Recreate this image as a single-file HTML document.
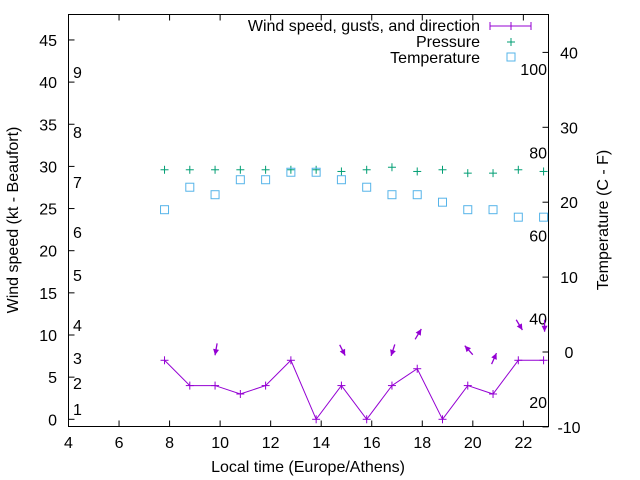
<!DOCTYPE html>
<html><head><meta charset="utf-8"><style>
html,body{margin:0;padding:0;background:#fff}
svg{display:block;font-family:"Liberation Sans",sans-serif}
</style></head><body>
<svg id="chart" width="640" height="480" viewBox="0 0 640 480"></svg>
<script>
const hours=[7.8,8.8,9.8,10.8,11.8,12.8,13.8,14.8,15.8,16.8,17.8,18.8,19.8,20.8,21.8,22.8];
const windKt=[7,4,4,3,4,7,0,4,0,4,6,0,4,3,7,7];
const pressureScaled=[29.6,29.6,29.6,29.6,29.6,29.6,29.6,29.4,29.6,29.9,29.4,29.6,29.2,29.2,29.6,29.4];
const tempC=[19,22,21,23,23,24,24,23,22,21,21,20,19,19,18,18];
const arrowHours=[9.8,14.8,16.8,17.8,19.8,20.8,21.8,22.8];
const arrowGust=[8.3,8.2,8.2,10.1,8.2,7.2,11.2,11.1];
const arrowHeading=[190,153,198,31,318,24,149,180];
const xTicks=[4,6,8,10,12,14,16,18,20,22];
const yTicks=[0,5,10,15,20,25,30,35,40,45];
const y2Ticks=[-10,0,10,20,30,40];
const fLabels=[20,40,60,80,100];
const beaufort=[[1,409],[2,383],[3,358],[4,325],[5,275],[6,232],[7,182],[8,132],[9,72]];

const L=68.5,R=548.5,T=14.5,B=426.5;
const FS=16;
const X=h=>L+(h-4)*25.27;
const Y=v=>419.3-v*8.43;
const Y2=c=>352-c*7.49;
const svg=document.getElementById('chart');
const NS='http://www.w3.org/2000/svg';
function mk(tag,attrs,parent){const e=document.createElementNS(NS,tag);for(const k in attrs)e.setAttribute(k,attrs[k]);(parent||svg).appendChild(e);return e;}
function txt(s,x,y,anchor,parent,extra){const t=mk('text',Object.assign({x:x,y:y,'text-anchor':anchor,'font-size':FS,fill:'#000'},extra||{}),parent);t.textContent=s;return t;}

const frame=mk('rect',{x:L,y:T,width:R-L,height:B-T,fill:'none',stroke:'#000','stroke-width':1});



const xg=mk('g',{});


xTicks.forEach(v=>{
  mk('line',{x1:X(v),x2:X(v),y1:B,y2:B-6,stroke:'#000'},xg);
  mk('line',{x1:X(v),x2:X(v),y1:T,y2:T+6,stroke:'#000'},xg);
  const t=txt(String(v),X(v),448,'middle',xg);
  
  
});
const yg=mk('g',{});


yTicks.forEach(v=>{
  mk('line',{x1:L,x2:L+6,y1:Y(v),y2:Y(v),stroke:'#000'},yg);
  const t=txt(String(v),57,Y(v)+6,'end',yg);
  
  
});
const y2g=mk('g',{});


y2Ticks.forEach(v=>{
  mk('line',{x1:R,x2:R-6,y1:Y2(v),y2:Y2(v),stroke:'#000'},y2g);
  const t=txt(String(v),569,Y2(v)+6,'middle',y2g);
  
  
});
fLabels.forEach(f=>{
  const c=(f-32)*5/9;
  const t=txt(String(f),547,Y2(c)+6,'end');
  
  
});
beaufort.forEach(b=>{
  const t=txt(String(b[0]),73,b[1]+6,'start');
  
  
});
const xt=txt('Local time (Europe/Athens)',308,472,'middle');


const yt=txt('Wind speed (kt - Beaufort)',0,0,'middle',svg,{transform:'translate(18,220) rotate(-90)'});


const y2t=txt('Temperature (C - F)',0,0,'middle',svg,{transform:'translate(608,220) rotate(-90)'});



const purple='#9400d3',green='#009e73',blue='#56b4e9';
function plus(x,y,c,g){mk('line',{x1:x-4,x2:x+4,y1:y,y2:y,stroke:c},g);mk('line',{x1:x,x2:x,y1:y-4,y2:y+4,stroke:c},g);}
function square(x,y,g){mk('rect',{x:x-4,y:y-4,width:8,height:8,fill:'none',stroke:blue},g);}

const wl=mk('polyline',{points:hours.map((h,i)=>X(h)+','+Y(windKt[i])).join(' '),fill:'none',stroke:purple,'stroke-width':1});


hours.forEach((h,i)=>{
  const g=mk('g',{});
  
  
  plus(X(h),Y(windKt[i]),purple,g);
});
arrowHours.forEach((h,i)=>{
  const g=mk('g',{});
  
  
  const a=arrowHeading[i]*Math.PI/180,len=12;
  const dx=Math.sin(a)*len,dy=-Math.cos(a)*len;
  const cx=X(h)+1,cy=Y(arrowGust[i]);
  const x1=cx-dx/2,y1=cy-dy/2,x2=cx+dx/2,y2=cy+dy/2;
  mk('line',{x1:x1,y1:y1,x2:x2,y2:y2,stroke:purple,'stroke-width':1.3},g);
  const ux=dx/len,uy=dy/len,px=-uy,py=ux;
  mk('polygon',{points:`${x2},${y2} ${x2-ux*6+px*3},${y2-uy*6+py*3} ${x2-ux*6-px*3},${y2-uy*6-py*3}`,fill:purple},g);
});
hours.forEach((h,i)=>{
  const g=mk('g',{});
  
  
  plus(X(h),Y(pressureScaled[i]),green,g);
});
hours.forEach((h,i)=>{
  const g=mk('g',{});
  
  
  square(X(h),Y2(tempC[i]),g);
});
const lg=mk('g',{});


const l1=txt('Wind speed, gusts, and direction',480,31,'end',lg);


mk('line',{x1:490,x2:531,y1:26,y2:26,stroke:purple},lg);
mk('line',{x1:490,x2:490,y1:22,y2:30,stroke:purple},lg);
mk('line',{x1:531,x2:531,y1:22,y2:30,stroke:purple},lg);
plus(511,26,purple,lg);
const l2=txt('Pressure',480,47,'end',lg);


plus(511,42,green,lg);
const l3=txt('Temperature',480,63,'end',lg);


square(511,57,lg);
</script>
</body></html>
